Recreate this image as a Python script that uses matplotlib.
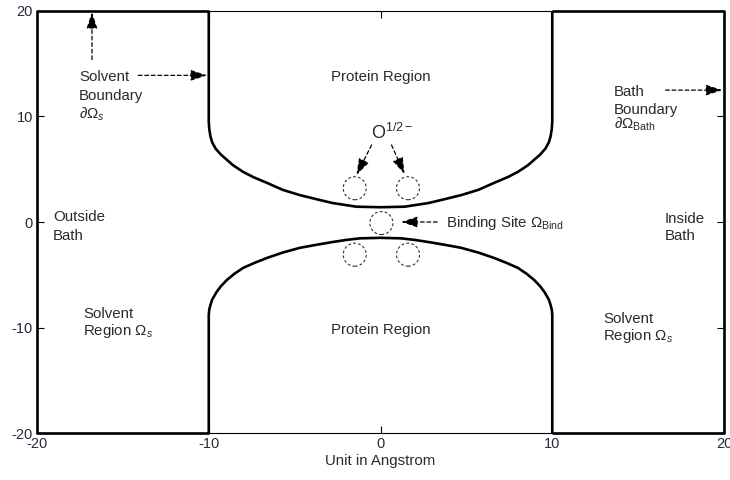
import numpy as np
import matplotlib.pyplot as plt
from matplotlib.patches import Circle
from matplotlib.transforms import ScaledTranslation

plt.rcParams['font.family'] = ['Liberation Sans', 'DejaVu Sans']
plt.rcParams['mathtext.fontset'] = 'custom'
plt.rcParams['mathtext.rm'] = 'Liberation Sans'
plt.rcParams['mathtext.it'] = 'Liberation Sans:italic'
plt.rcParams['mathtext.sf'] = 'Liberation Sans'
plt.rcParams['axes.unicode_minus'] = False

# left half of the upper protein wall (vertical part ends at x=-10, y=9.5)
top_arc_x = [-10, -9.97, -9.9, -9.8, -9.6, -9.3, -8.95, -8.6, -8.0, -7.4, -6.6,
             -5.7, -4.7, -3.7, -2.8, -2.0, -1.4, 0]
top_arc_y = [9.5, 8.8, 8.1, 7.55, 6.95, 6.4, 5.9, 5.4, 4.75, 4.25, 3.7,
             3.05, 2.55, 2.15, 1.8, 1.6, 1.45, 1.4]
# left half of the lower protein wall
bot_arc_x = [-10, -9.97, -9.9, -9.8, -9.55, -9.3, -8.95, -8.5, -8.0, -7.3, -6.6,
             -5.7, -4.7, -3.7, -2.8, -2.0, -1.2, 0]
bot_arc_y = [-8.8, -8.3, -7.85, -7.35, -6.65, -6.1, -5.5, -4.9, -4.35, -3.85, -3.4,
             -2.9, -2.45, -2.15, -1.9, -1.7, -1.55, -1.5]

# oxygen / binding site positions
site_x = [-1.5, 1.6, -1.5, 1.6, 0.05]
site_y = [3.2, 3.2, -3.1, -3.1, -0.1]

# dashed pointer arrows: (x start, y start, x tip, y tip)
arrows = [
    (-16.8, 15.4, -16.8, 19.9),
    (-14.1, 13.9, -10.1, 13.9),
    (16.6, 12.5, 19.9, 12.5),
    (-0.52, 7.3, -1.4, 4.45),
    (0.64, 7.3, 1.4, 4.55),
    (3.3, 0.0, 1.2, 0.0),
]

# one entry per text line: (x, baseline y, text, horizontal alignment, size)
labels = [
    (-17.56, 13.41, 'Solvent', 'left', 10.8),
    (-17.56, 11.52, 'Boundary', 'left', 10.8),
    (-17.56, 9.76, '$\\partial\\Omega_s$', 'left', 10.8),
    (13.6, 11.99, 'Bath', 'left', 10.8),
    (13.6, 10.28, 'Boundary', 'left', 10.8),
    (13.6, 8.82, '$\\partial\\Omega_{\\mathrm{Bath}}$', 'left', 10.8),
    (-19.07, 0.14, 'Outside', 'left', 10.8),
    (-19.07, -1.66, 'Bath', 'left', 10.8),
    (16.57, -0.05, 'Inside', 'left', 10.8),
    (16.57, -1.75, 'Bath', 'left', 10.8),
    (-17.33, -9.1, 'Solvent', 'left', 10.8),
    (-17.33, -10.7, 'Region $\\Omega_s$', 'left', 10.8),
    (12.97, -9.62, 'Solvent', 'left', 10.8),
    (12.97, -11.23, 'Region $\\Omega_s$', 'left', 10.8),
    (0, 13.41, 'Protein Region', 'center', 10.8),
    (0, -10.66, 'Protein Region', 'center', 10.8),
    (-0.55, 7.85, 'O$^{1/2-}$', 'left', 13),
    (3.84, -0.52, 'Binding Site $\\Omega_{\\mathrm{Bind}}$', 'left', 10.8),
]

xticks = [-20, -10, 0, 10, 20]
yticks = [-20, -10, 0, 10, 20]

fig = plt.figure(figsize=(7.3, 4.8), dpi=100)
ax = fig.add_axes([0.0507, 0.0979, 0.9411, 0.8792])

wall = dict(color='black', lw=1.9, clip_on=False, solid_capstyle='butt',
            solid_joinstyle='round')

# outer bath boundary (left and right halves)
ax.plot([-10, -20, -20, -10], [20, 20, -20, -20], **wall)
ax.plot([10, 20, 20, 10], [20, 20, -20, -20], **wall)

# upper protein wall
ux = np.array(top_arc_x)
uy = np.array(top_arc_y)
ax.plot(np.r_[-10, ux, -ux[::-1][1:], 10], np.r_[20, uy, uy[::-1][1:], 20], **wall)

# lower protein wall
lx = np.array(bot_arc_x)
ly = np.array(bot_arc_y)
ax.plot(np.r_[-10, lx, -lx[::-1][1:], 10], np.r_[-20, ly, ly[::-1][1:], -20], **wall)

# dashed circles for the oxygen sites
for sx, sy in zip(site_x, site_y):
    c = Circle((0, 0), 0.115, fill=False, ec='#333333', lw=0.8, ls=(0, (2.5, 2)),
               transform=fig.dpi_scale_trans + ScaledTranslation(sx, sy, ax.transData))
    ax.add_artist(c)

for x0, y0, x1, y1 in arrows:
    ax.annotate('', xy=(x1, y1), xytext=(x0, y0),
                arrowprops=dict(arrowstyle='-|>,head_length=1.0,head_width=0.33',
                                color='black', lw=0.9, linestyle=(0, (3, 2.2)),
                                shrinkA=0, shrinkB=0))

for x, y, s, ha, size in labels:
    ax.text(x, y, s, ha=ha, va='baseline', fontsize=size, color='#2b2b2b')

ax.set_xlim(-20, 20)
ax.set_ylim(-20, 20)
ax.set_xticks(xticks)
ax.set_yticks(yticks)
ax.tick_params(direction='in', top=True, right=True, length=5, width=0.8,
               labelsize=10.5, labelcolor='#2a2a3a', pad=3)
for sp in ax.spines.values():
    sp.set_linewidth(0.8)
ax.set_xlabel('Unit in Angstrom', fontsize=10.8, color='#2b2b2b', labelpad=2)

fig.savefig('out.png', dpi=100)
